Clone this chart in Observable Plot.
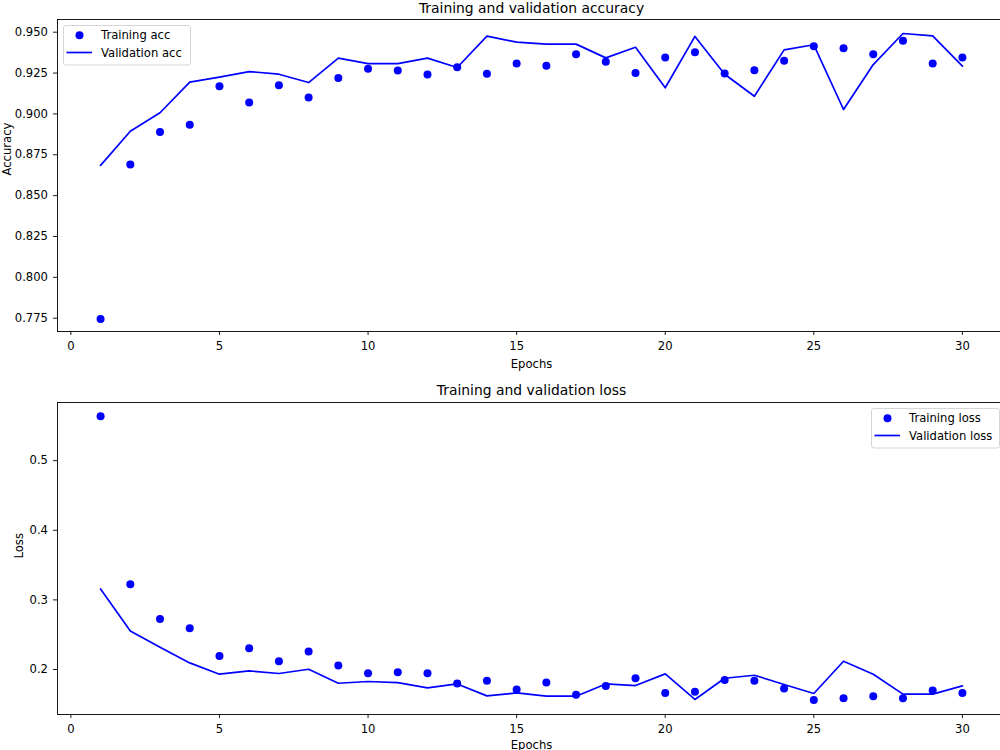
<!DOCTYPE html>
<html><head><meta charset="utf-8">
<script src="https://cdn.jsdelivr.net/npm/d3@7"></script>
<script src="https://cdn.jsdelivr.net/npm/@observablehq/plot@0.6"></script>
<style>
html,body{margin:0;padding:0;background:#fff;overflow:hidden;}
#fig{position:relative;width:1000px;height:750px;overflow:hidden;font-family:"DejaVu Sans",sans-serif;background:#fff;}
#fig svg.plotsvg{display:block;max-width:none !important;width:1010px;height:375px;}
.legend{position:absolute;overflow:visible;}
</style></head><body><div id="fig"></div>
<script>
// ---- data ----
const epochs = [1,2,3,4,5,6,7,8,9,10,11,12,13,14,15,16,17,18,19,20,21,22,23,24,25,26,27,28,29,30];
const trainAcc = [0.7745,0.8690,0.8890,0.8933,0.9170,0.9070,0.9176,0.9100,0.9219,0.9276,
                  0.9266,0.9241,0.9286,0.9245,0.9308,0.9294,0.9365,0.9319,0.9251,0.9345,
                  0.9378,0.9247,0.9267,0.9325,0.9414,0.9402,0.9365,0.9447,0.9308,0.9345];
const valAcc = [0.8685,0.8894,0.9007,0.9194,0.9225,0.9259,0.9243,0.9192,0.9341,0.9308,
                0.9308,0.9341,0.9284,0.9476,0.9439,0.9427,0.9427,0.9343,0.9408,0.9160,
                0.9474,0.9243,0.9108,0.9392,0.9423,0.9027,0.9302,0.9492,0.9478,0.9292];
const trainLoss = [0.5639,0.3224,0.2726,0.2593,0.2195,0.2306,0.2119,0.2258,0.2057,0.1947,
                   0.1961,0.1947,0.1799,0.1837,0.1713,0.1813,0.1636,0.1765,0.1875,0.1664,
                   0.1679,0.1851,0.1837,0.1727,0.1564,0.1588,0.1617,0.1588,0.1698,0.1664];
const valLoss = [0.3157,0.2554,0.2320,0.2095,0.1933,0.1980,0.1943,0.2004,0.1803,0.1828,
                 0.1813,0.1736,0.1793,0.1621,0.1664,0.1617,0.1617,0.1793,0.1770,0.1937,
                 0.1570,0.1875,0.1918,0.1785,0.1656,0.2119,0.1933,0.1646,0.1646,0.1765];
const epochTicks = [0,5,10,15,20,25,30];
const accTicks = [0.775,0.800,0.825,0.850,0.875,0.900,0.925,0.950];
const lossTicks = [0.2,0.3,0.4,0.5];
const titles = ["Training and validation accuracy","Training and validation loss"];
const yLabels = ["Accuracy","Loss"];
const xLabel = "Epochs";
const accLegend = ["Training acc","Validation acc"];
const lossLegend = ["Training loss","Validation loss"];

const BLUE = "#0000ff";
const FS = 11.6;

function panel(o) {
  const data = epochs.map((e,i)=>({epoch:e, train:o.train[i], val:o.val[i]}));
  const svg = Plot.plot({
    width: 1010, height: o.h,
    marginLeft: 57, marginRight: 5, marginTop: o.mt, marginBottom: o.mb,
    style: {fontFamily: "DejaVu Sans", fontSize: FS + "px", color: "#000", background: "#fff", overflow: "visible"},
    x: {domain: [-0.45, 31.45]},
    y: {domain: o.yDomain},
    marks: [
      Plot.axisX({ticks: epochTicks, tickSize: 4, tickPadding: 6, tickFormat: d3.format("d"), label: null, strokeWidth: 0.9}),
      Plot.axisY({ticks: o.yTicks, tickSize: 4, tickPadding: 5.5, tickFormat: o.yFormat, label: null, strokeWidth: 0.9}),
      Plot.line(data, {x: "epoch", y: "val", stroke: BLUE, strokeWidth: 1.7}),
      Plot.dot(data, {x: "epoch", y: "train", r: 4, fill: BLUE}),
      Plot.frame({stroke: "#000", strokeWidth: 0.9}),
      Plot.text([o.title], {frameAnchor: "top", dy: o.titleDy, fontSize: 13.9}),
      Plot.text([o.ylabel], {frameAnchor: "left", dx: o.ylabelDx, rotate: -90}),
      Plot.text([xLabel], {frameAnchor: "bottom", dy: o.xlabelDy})
    ]
  });
  svg.classList.add("plotsvg");
  return svg;
}

function legend(host, left, top, w, h, labels) {
  const svg = d3.select(host).append("svg").attr("class", "legend")
    .style("left", left + "px").style("top", top + "px")
    .attr("width", w + 1).attr("height", h + 1);
  svg.append("rect").attr("x", 0.5).attr("y", 0.5).attr("width", w).attr("height", h)
    .attr("rx", 2.5).attr("fill", "#fff").attr("fill-opacity", 0.8)
    .attr("stroke", "#d0d0d0").attr("stroke-width", 0.9);
  const rows = [10.2, 27.5];
  svg.append("circle").attr("cx", 16.5).attr("cy", rows[0]).attr("r", 4).attr("fill", BLUE);
  svg.append("line").attr("x1", 3.5).attr("x2", 29).attr("y1", rows[1]).attr("y2", rows[1])
    .attr("stroke", BLUE).attr("stroke-width", 1.7);
  labels.forEach((t, i) => {
    svg.append("text").attr("x", 38).attr("y", rows[i]).attr("dy", "0.35em")
      .attr("font-family", "DejaVu Sans").attr("font-size", FS).attr("fill", "#000").text(t);
  });
}

const fig = document.getElementById("fig");
fig.append(panel({
  train: trainAcc, val: valAcc, h: 375, mt: 19, mb: 44,
  yDomain: [0.76686, 0.95777], yTicks: accTicks, yFormat: d3.format(".3f"),
  title: titles[0], ylabel: yLabels[0], ylabelDx: -50.5, titleDy: -16.5, xlabelDy: 36
}));
fig.append(panel({
  train: trainLoss, val: valLoss, h: 375, mt: 27, mb: 36,
  yDomain: [0.1354, 0.5835], yTicks: lossTicks, yFormat: d3.format(".1f"),
  title: titles[1], ylabel: yLabels[1], ylabelDx: -38.7, titleDy: -17.5, xlabelDy: 34
}));
legend(fig, 63, 25, 127, 39.5, accLegend);
legend(fig, 871, 408, 128, 39.5, lossLegend);
</script></body></html>
